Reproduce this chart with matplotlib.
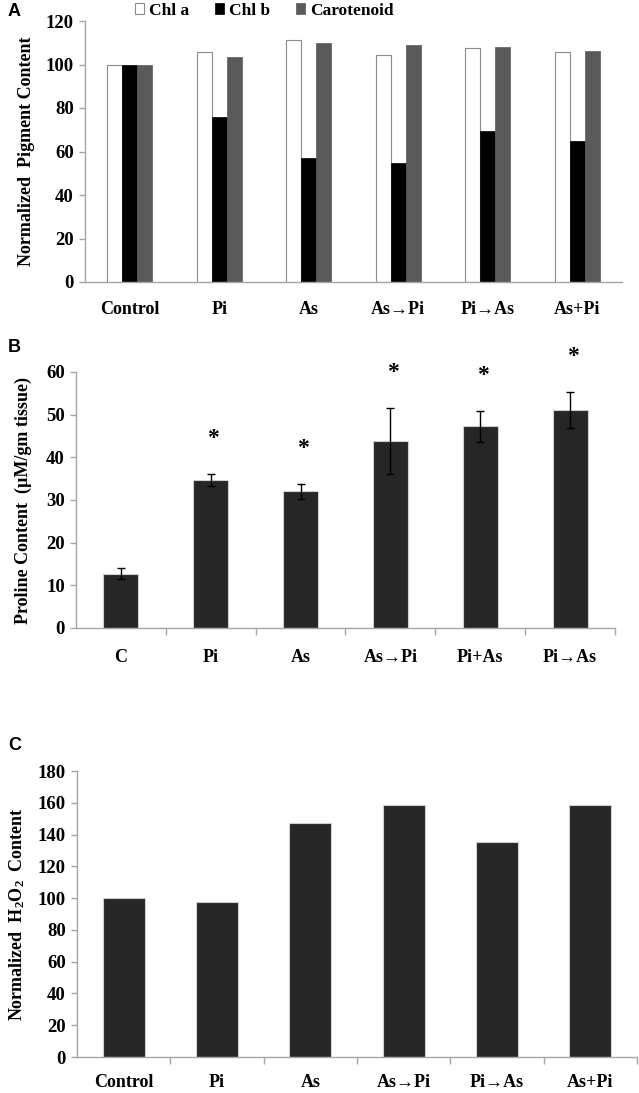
import matplotlib
matplotlib.use("Agg")
import matplotlib.pyplot as plt
import numpy as np

plt.rcParams["font.family"] = ["Liberation Serif", "DejaVu Serif"]
plt.rcParams["font.weight"] = "bold"
plt.rcParams["axes.labelweight"] = "bold"
plt.rcParams["mathtext.fontset"] = "custom"
plt.rcParams["mathtext.rm"] = "Liberation Serif:bold"
plt.rcParams["mathtext.bf"] = "Liberation Serif:bold"

# Panel A: pigments
pig_groups = ["Control", "Pi", "As", "As\u2192Pi", "Pi\u2192As", "As+Pi"]
chl_a = [100, 105.8, 111.1, 104.2, 107.8, 105.8]
chl_b = [100, 75.8, 57.0, 54.7, 69.6, 64.8]
carotenoid = [100, 103.6, 109.8, 109.0, 108.1, 106.2]

# Panel B: proline
pro_groups = ["C", "Pi", "As", "As\u2192Pi", "Pi+As", "Pi\u2192As"]
proline = [12.7, 34.7, 32.0, 43.8, 47.3, 51.1]
proline_err = [1.3, 1.4, 1.7, 7.7, 3.6, 4.3]
proline_sig = [False, True, True, True, True, True]

# Panel C: H2O2
h2o2_groups = ["Control", "Pi", "As", "As\u2192Pi", "Pi\u2192As", "As+Pi"]
h2o2 = [100, 97.3, 147.1, 158.6, 135.6, 158.6]

W, H = 639, 1093
AXIS_GRAY = "#a6a6a6"
BAR_DARK = "#262626"


def fig_rect(x0, y_top, x1, y_bot):
    return [x0 / W, 1 - y_bot / H, (x1 - x0) / W, (y_bot - y_top) / H]


def style_axis(ax):
    for side in ["top", "right"]:
        ax.spines[side].set_visible(False)
    for side in ["left", "bottom"]:
        ax.spines[side].set_color(AXIS_GRAY)
        ax.spines[side].set_linewidth(1.0)
    ax.tick_params(axis="y", colors=AXIS_GRAY, labelcolor="black",
                   length=4, width=1.0, labelsize=13.5, pad=4)
    for lbl in ax.get_yticklabels() + ax.get_xticklabels():
        lbl.set_fontweight("bold")


def set_cats(ax, labels, pad, boundary_ticks):
    n = len(labels)
    ax.set_xlim(-0.5, n - 0.5)
    ax.set_xticks(np.arange(n))
    ax.set_xticklabels(labels, fontsize=13, fontweight="bold")
    ax.tick_params(axis="x", which="major", length=0, pad=pad)
    if boundary_ticks:
        ax.set_xticks(np.arange(0.5, n, 1.0), minor=True)
        ax.tick_params(axis="x", which="minor", length=5, width=1.0, color=AXIS_GRAY)


fig = plt.figure(figsize=(W / 100, H / 100), dpi=100)

# ---- A ----
axA = fig.add_axes(fig_rect(85, 21, 622, 282))
x = np.arange(len(pig_groups))
bw = 0.167
bars_a = axA.bar(x - bw, chl_a, bw, color="white", edgecolor="#8c8c8c", linewidth=0.8, label="Chl a")
bars_b = axA.bar(x, chl_b, bw, color="black", edgecolor="black", linewidth=0.5, label="Chl b")
bars_c = axA.bar(x + bw, carotenoid, bw, color="#5a5a5a", edgecolor="#5a5a5a", linewidth=0.5, label="Carotenoid")
axA.set_ylim(0, 120)
axA.set_yticks(np.arange(0, 121, 20))
set_cats(axA, pig_groups, 14, False)
style_axis(axA)
axA.set_ylabel("Normalized  Pigment Content", fontsize=13, labelpad=8)
fig.legend(handles=[bars_a, bars_b, bars_c], loc="center left",
           bbox_to_anchor=(126 / W, 1 - 11 / H), ncol=3, frameon=False,
           handlelength=0.55, handleheight=0.6, handletextpad=0.25,
           columnspacing=1.5, borderpad=0, prop={"size": 12.5, "weight": "bold"})
fig.text(8 / W, 1 - 11 / H, "A", fontsize=13, fontweight="bold",
         family="Liberation Sans", va="center", ha="left")

# ---- B ----
axB = fig.add_axes(fig_rect(76, 372, 615, 628))
x = np.arange(len(pro_groups))
axB.bar(x, proline, 0.39, color=BAR_DARK, edgecolor="#cfcfcf", linewidth=0.8,
        yerr=proline_err, capsize=3, error_kw={"elinewidth": 1.0, "capthick": 1.0, "ecolor": "black"})
for xi, v, e, s in zip(x, proline, proline_err, proline_sig):
    if s:
        axB.text(xi + 0.03, v + e + 8.3, "*", ha="center", va="center", fontsize=17, fontweight="bold")
axB.set_ylim(0, 60)
axB.set_yticks(np.arange(0, 61, 10))
set_cats(axB, pro_groups, 15, True)
style_axis(axB)
axB.set_ylabel("Proline Content  (\u00b5M/gm tissue)", fontsize=13, labelpad=10)
fig.text(8 / W, 1 - 348 / H, "B", fontsize=13, fontweight="bold",
         family="Liberation Sans", va="center", ha="left")

# ---- C ----
axC = fig.add_axes(fig_rect(77, 771, 637, 1057))
x = np.arange(len(h2o2_groups))
axC.bar(x, h2o2, 0.45, color=BAR_DARK, edgecolor="#cfcfcf", linewidth=0.8)
axC.set_ylim(0, 180)
axC.set_yticks(np.arange(0, 181, 20))
set_cats(axC, h2o2_groups, 12, True)
style_axis(axC)
axC.set_ylabel(r"Normalized  $\mathrm{H_2O_2}$  Content", fontsize=13, labelpad=8)
fig.text(8 / W, 1 - 745 / H, "C", fontsize=13, fontweight="bold",
         family="Liberation Sans", va="center", ha="left")

fig.savefig("out.png", dpi=100, facecolor="white")
